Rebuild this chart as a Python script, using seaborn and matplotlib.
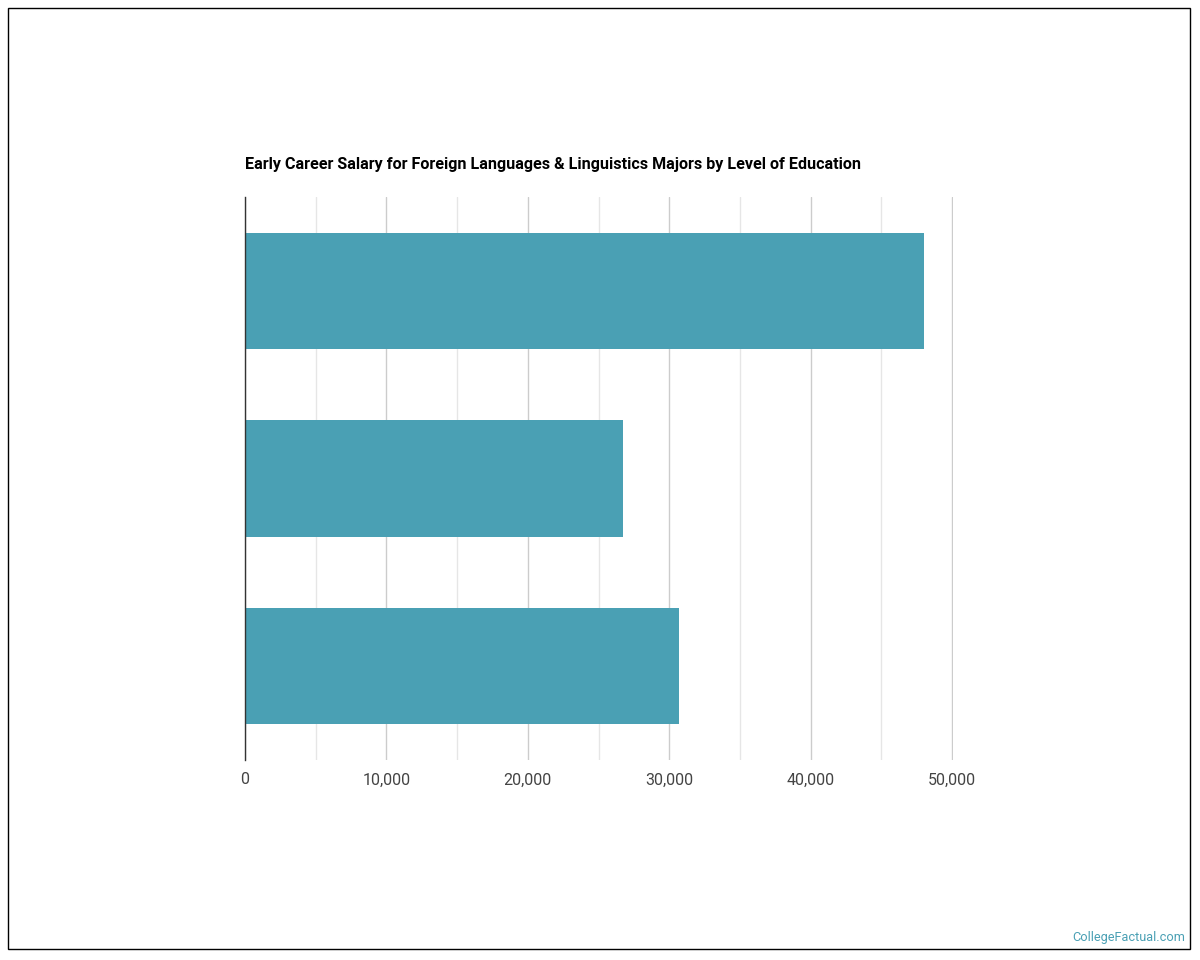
import pandas as pd
import seaborn as sns
import matplotlib.pyplot as plt
from matplotlib.patches import Rectangle
from matplotlib.ticker import FuncFormatter, MultipleLocator

levels = ["Bachelor's Degree", "Associate Degree", "Master's Degree"]
salaries = [48000, 26750, 30700]
xticks = [0, 10000, 20000, 30000, 40000, 50000]

df = pd.DataFrame({"level": levels, "salary": salaries})

sns.set_style("white")
plt.rcParams['font.family'] = ['Roboto', 'DejaVu Sans']

fig = plt.figure(figsize=(12, 9.6), dpi=100)
ax = fig.add_axes([245/1200, 1-760/960, 708/1200, 563/960])

sns.barplot(data=df, x="salary", y="level", orient="h", color="#4aa0b4",
            saturation=1, width=0.62, linewidth=0, ax=ax, zorder=3)

ax.set_xlim(0, 50060)
ax.set_ylim(2.5, -0.5)
ax.set_xticks(xticks)
ax.xaxis.set_minor_locator(MultipleLocator(5000))
ax.xaxis.set_major_formatter(FuncFormatter(lambda v, p: f"{int(v):,}"))
ax.grid(axis="x", which="major", color="#cccccc", linewidth=1, zorder=0)
ax.grid(axis="x", which="minor", color="#e6e6e6", linewidth=1, zorder=0)
ax.set_axisbelow(True)
ax.tick_params(axis="x", which="both", length=0, pad=9, labelsize=11.5, labelcolor="#444444")
ax.set_yticks([])
ax.set_xlabel("")
ax.set_ylabel("")
for s in ["top", "right", "bottom"]:
    ax.spines[s].set_visible(False)
ax.spines["left"].set_color("#333333")
ax.spines["left"].set_linewidth(1)
ax.spines["left"].set_zorder(5)

fig.text(245/1200, 1-164/960, "Early Career Salary for Foreign Languages & Linguistics Majors by Level of Education",
         fontsize=11.6, fontweight="bold", ha="left", va="center", color="black")
fig.text(1185/1200, 1-938/960, "CollegeFactual.com", fontsize=9.2, color="#4aa0b4",
         ha="right", va="center")

fig.patches.append(Rectangle((8/1200, 1-949/960), 1182/1200, 941/960, transform=fig.transFigure,
                             fill=False, edgecolor="black", linewidth=1))

fig.savefig("out.png", dpi=100)
